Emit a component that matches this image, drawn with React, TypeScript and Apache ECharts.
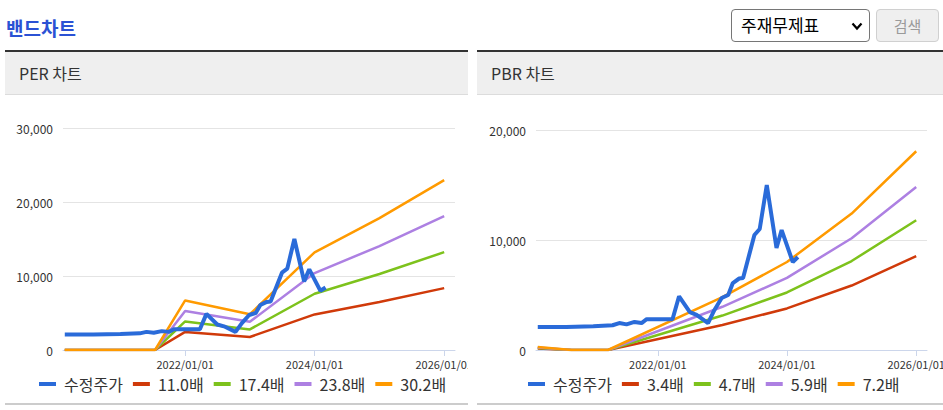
import React, { useEffect, useRef } from 'react';
import * as echarts from 'echarts';

// ---------- data ----------
const priceDates = [
  '2020-02-22', '2020-08-01', '2021-01-01', '2021-04-20', '2021-05-28', '2021-07-08',
  '2021-08-22', '2021-10-01', '2021-10-30', '2022-03-25', '2022-05-01', '2022-07-01',
  '2022-08-08', '2022-10-12', '2022-11-17', '2022-12-28', '2023-02-03', '2023-03-01',
  '2023-04-06', '2023-04-28', '2023-07-01', '2023-07-31', '2023-09-09', '2023-11-03',
  '2023-12-02', '2024-02-03', '2024-03-03',
];
const priceValues = [
  2100, 2100, 2150, 2250, 2450, 2330,
  2550, 2450, 2800, 2800, 4880, 3450,
  3200, 2450, 3640, 4730, 5000, 6090,
  6500, 6550, 10450, 11000, 15000, 9270,
  10900, 8000, 8450,
];

const perBandDates = ['2020-02-22', '2021-07-15', '2022-01-01', '2023-01-01', '2024-01-01', '2025-01-01', '2026-01-01'];
const perBandNames = ['11.0배', '17.4배', '23.8배', '30.2배'];
const perBand1 = [0, 0, 2440, 1760, 4810, 6490, 8360];
const perBand2 = [0, 0, 3860, 2780, 7600, 10270, 13220];
const perBand3 = [0, 0, 5280, 3810, 10400, 14040, 18090];
const perBand4 = [0, 0, 6700, 4830, 13200, 17820, 22950];

const pbrBandDates = ['2020-02-22', '2020-09-01', '2021-03-25', '2023-01-01', '2024-01-01', '2025-01-01', '2026-01-01'];
const pbrBandNames = ['3.4배', '4.7배', '5.9배', '7.2배'];
const pbrBand1 = [128, 0, 0, 2270, 3780, 5860, 8530];
const pbrBand2 = [176, 0, 0, 3130, 5230, 8090, 11800];
const pbrBand3 = [221, 0, 0, 3930, 6560, 10160, 14810];
const pbrBand4 = [270, 0, 0, 4800, 8000, 12400, 18070];

const xTickDates = ['2022-01-01', '2024-01-01', '2026-01-01'];
const xRange = ['2020-02-12', '2026-03-03'];
const priceName = '수정주가';

// ---------- style ----------
const FONT = '"Noto Sans CJK KR", "Noto Sans", sans-serif';
const PRICE_COLOR = '#2a6bd9';
const BAND_COLORS = ['#d03a0a', '#7dc21c', '#ad80e2', '#ff9a00'];

const toTs = (s: string) => {
  const [y, m, d] = s.split('-').map(Number);
  return new Date(y, m - 1, d).getTime();
};
const pad = (n: number) => (n < 10 ? '0' + n : '' + n);
const fmtDate = (v: number) => {
  const d = new Date(v);
  return `${d.getFullYear()}/${pad(d.getMonth() + 1)}/${pad(d.getDate())}`;
};

interface Cfg {
  gridLeft: number;
  gridTop: number;
  gridWidth: number;
  gridHeight: number;
  yMax: number;
  bandDates: string[];
  bandNames: string[];
  bands: number[][];
  legendLeft: number;
}

function buildOption(c: Cfg) {
  const ticks = xTickDates.map(toTs);
  const bandSeries = c.bands.map((vals, i) => ({
    name: c.bandNames[i],
    type: 'line',
    data: c.bandDates.map((d, j) => [toTs(d), vals[j]]),
    showSymbol: false,
    symbol: 'none',
    lineStyle: { width: 2.5, color: BAND_COLORS[i] },
    itemStyle: { color: BAND_COLORS[i] },
    z: 2,
  }));
  return {
    animation: false,
    grid: {
      left: c.gridLeft,
      top: c.gridTop,
      width: c.gridWidth,
      height: c.gridHeight,
      containLabel: false,
      outerBoundsMode: 'none',
    },
    xAxis: {
      type: 'value',
      min: toTs(xRange[0]),
      max: toTs(xRange[1]),
      axisLine: { show: true, onZero: false, lineStyle: { color: '#ccd6eb', width: 1 } },
      axisTick: { show: true, length: 6, lineStyle: { color: '#ccd6eb' }, customValues: ticks },
      axisLabel: {
        customValues: ticks,
        formatter: (v: number) => fmtDate(v),
        color: '#333',
        fontSize: 11,
        margin: 8,
        fontFamily: FONT,
      },
      splitLine: { show: false },
    },
    yAxis: {
      type: 'value',
      min: 0,
      max: c.yMax,
      interval: 10000,
      axisLine: { show: false },
      axisTick: { show: false },
      axisLabel: {
        formatter: (v: number) => v.toLocaleString('en-US'),
        color: '#333',
        fontSize: 12,
        margin: 10,
        fontFamily: FONT,
      },
      splitLine: { lineStyle: { color: '#e4e4e4', width: 1 } },
    },
    legend: {
      data: [priceName, ...c.bandNames],
      left: c.legendLeft,
      top: 276,
      icon: 'rect',
      itemWidth: 17,
      itemHeight: 4,
      itemGap: 10,
      textStyle: { fontSize: 16, color: '#333', fontFamily: FONT, padding: [0, 0, 0, 3] },
    },
    series: [
      {
        name: priceName,
        type: 'line',
        data: priceDates.map((d, i) => [toTs(d), priceValues[i]]),
        showSymbol: false,
        symbol: 'none',
        lineStyle: { width: 4, color: PRICE_COLOR },
        itemStyle: { color: PRICE_COLOR },
        z: 4,
      },
      ...bandSeries,
    ],
  };
}

function Chart({ cfg, style }: { cfg: Cfg; style: React.CSSProperties }) {
  const ref = useRef<HTMLDivElement>(null);
  useEffect(() => {
    if (!ref.current) return;
    const chart = echarts.init(ref.current, undefined, { renderer: 'svg' });
    chart.setOption(buildOption(cfg) as any);
    return () => chart.dispose();
  }, []);
  return <div ref={ref} style={style} />;
}

function Panel({ left, width, title }: { left: number; width: number; title: string }) {
  return (
    <>
      <div style={{ position: 'absolute', left, top: 50, width, height: 2, background: '#333' }} />
      <div
        style={{
          position: 'absolute',
          left,
          top: 52,
          width,
          height: 42,
          background: '#efefef',
          borderBottom: '1px solid #dcdcdc',
        }}
      >
        <div
          style={{
            position: 'absolute',
            left: 14,
            top: 10,
            fontSize: 16,
            lineHeight: '22px',
            color: '#333',
            fontFamily: FONT,
          }}
        >
          {title}
        </div>
      </div>
      <div style={{ position: 'absolute', left, top: 403, width, height: 2, background: '#cccccc' }} />
    </>
  );
}

export default function App() {
  const perCfg: Cfg = {
    gridLeft: 58,
    gridTop: 33,
    gridWidth: 392,
    gridHeight: 222,
    yMax: 30000,
    bandDates: perBandDates,
    bandNames: perBandNames,
    bands: [perBand1, perBand2, perBand3, perBand4],
    legendLeft: 29,
  };
  const pbrCfg: Cfg = {
    gridLeft: 59,
    gridTop: 35,
    gridWidth: 391,
    gridHeight: 220,
    yMax: 20000,
    bandDates: pbrBandDates,
    bandNames: pbrBandNames,
    bands: [pbrBand1, pbrBand2, pbrBand3, pbrBand4],
    legendLeft: 46,
  };
  return (
    <div
      style={{
        position: 'absolute',
        left: 0,
        top: 0,
        width: 943,
        height: 410,
        background: '#fff',
        overflow: 'hidden',
        fontFamily: FONT,
      }}
    >
      <div
        style={{
          position: 'absolute',
          left: 6,
          top: 15,
          fontSize: 19,
          fontWeight: 'bold',
          color: '#2b52d4',
          lineHeight: '26px',
          fontFamily: FONT,
        }}
      >
        밴드차트
      </div>
      {/* select */}
      <div
        style={{
          position: 'absolute',
          left: 731,
          top: 9,
          width: 139,
          height: 33,
          boxSizing: 'border-box',
          border: '1px solid #767676',
          borderRadius: 4,
          background: '#fff',
        }}
      >
        <div
          style={{
            position: 'absolute',
            left: 9,
            top: 4,
            fontSize: 17,
            lineHeight: '22px',
            color: '#000',
            fontFamily: FONT,
          }}
        >
          주재무제표
        </div>
        <svg style={{ position: 'absolute', left: 119, top: 12 }} width={12} height={9}>
          <polyline points="1.5,1.5 6,6.5 10.5,1.5" fill="none" stroke="#000" strokeWidth={2.2} />
        </svg>
      </div>
      {/* button */}
      <div
        style={{
          position: 'absolute',
          left: 876,
          top: 9,
          width: 63,
          height: 33,
          boxSizing: 'border-box',
          border: '1px solid #d0d0d0',
          borderRadius: 4,
          background: '#efefef',
          color: '#9a9a9a',
          fontSize: 15,
          lineHeight: '31px',
          textAlign: 'center',
          fontFamily: FONT,
        }}
      >
        검색
      </div>
      <Panel left={5} width={463} title="PER 차트" />
      <Panel left={477} width={466} title="PBR 차트" />
      <Chart cfg={perCfg} style={{ position: 'absolute', left: 5, top: 95, width: 463, height: 308 }} />
      <Chart cfg={pbrCfg} style={{ position: 'absolute', left: 477, top: 95, width: 466, height: 308 }} />
    </div>
  );
}
